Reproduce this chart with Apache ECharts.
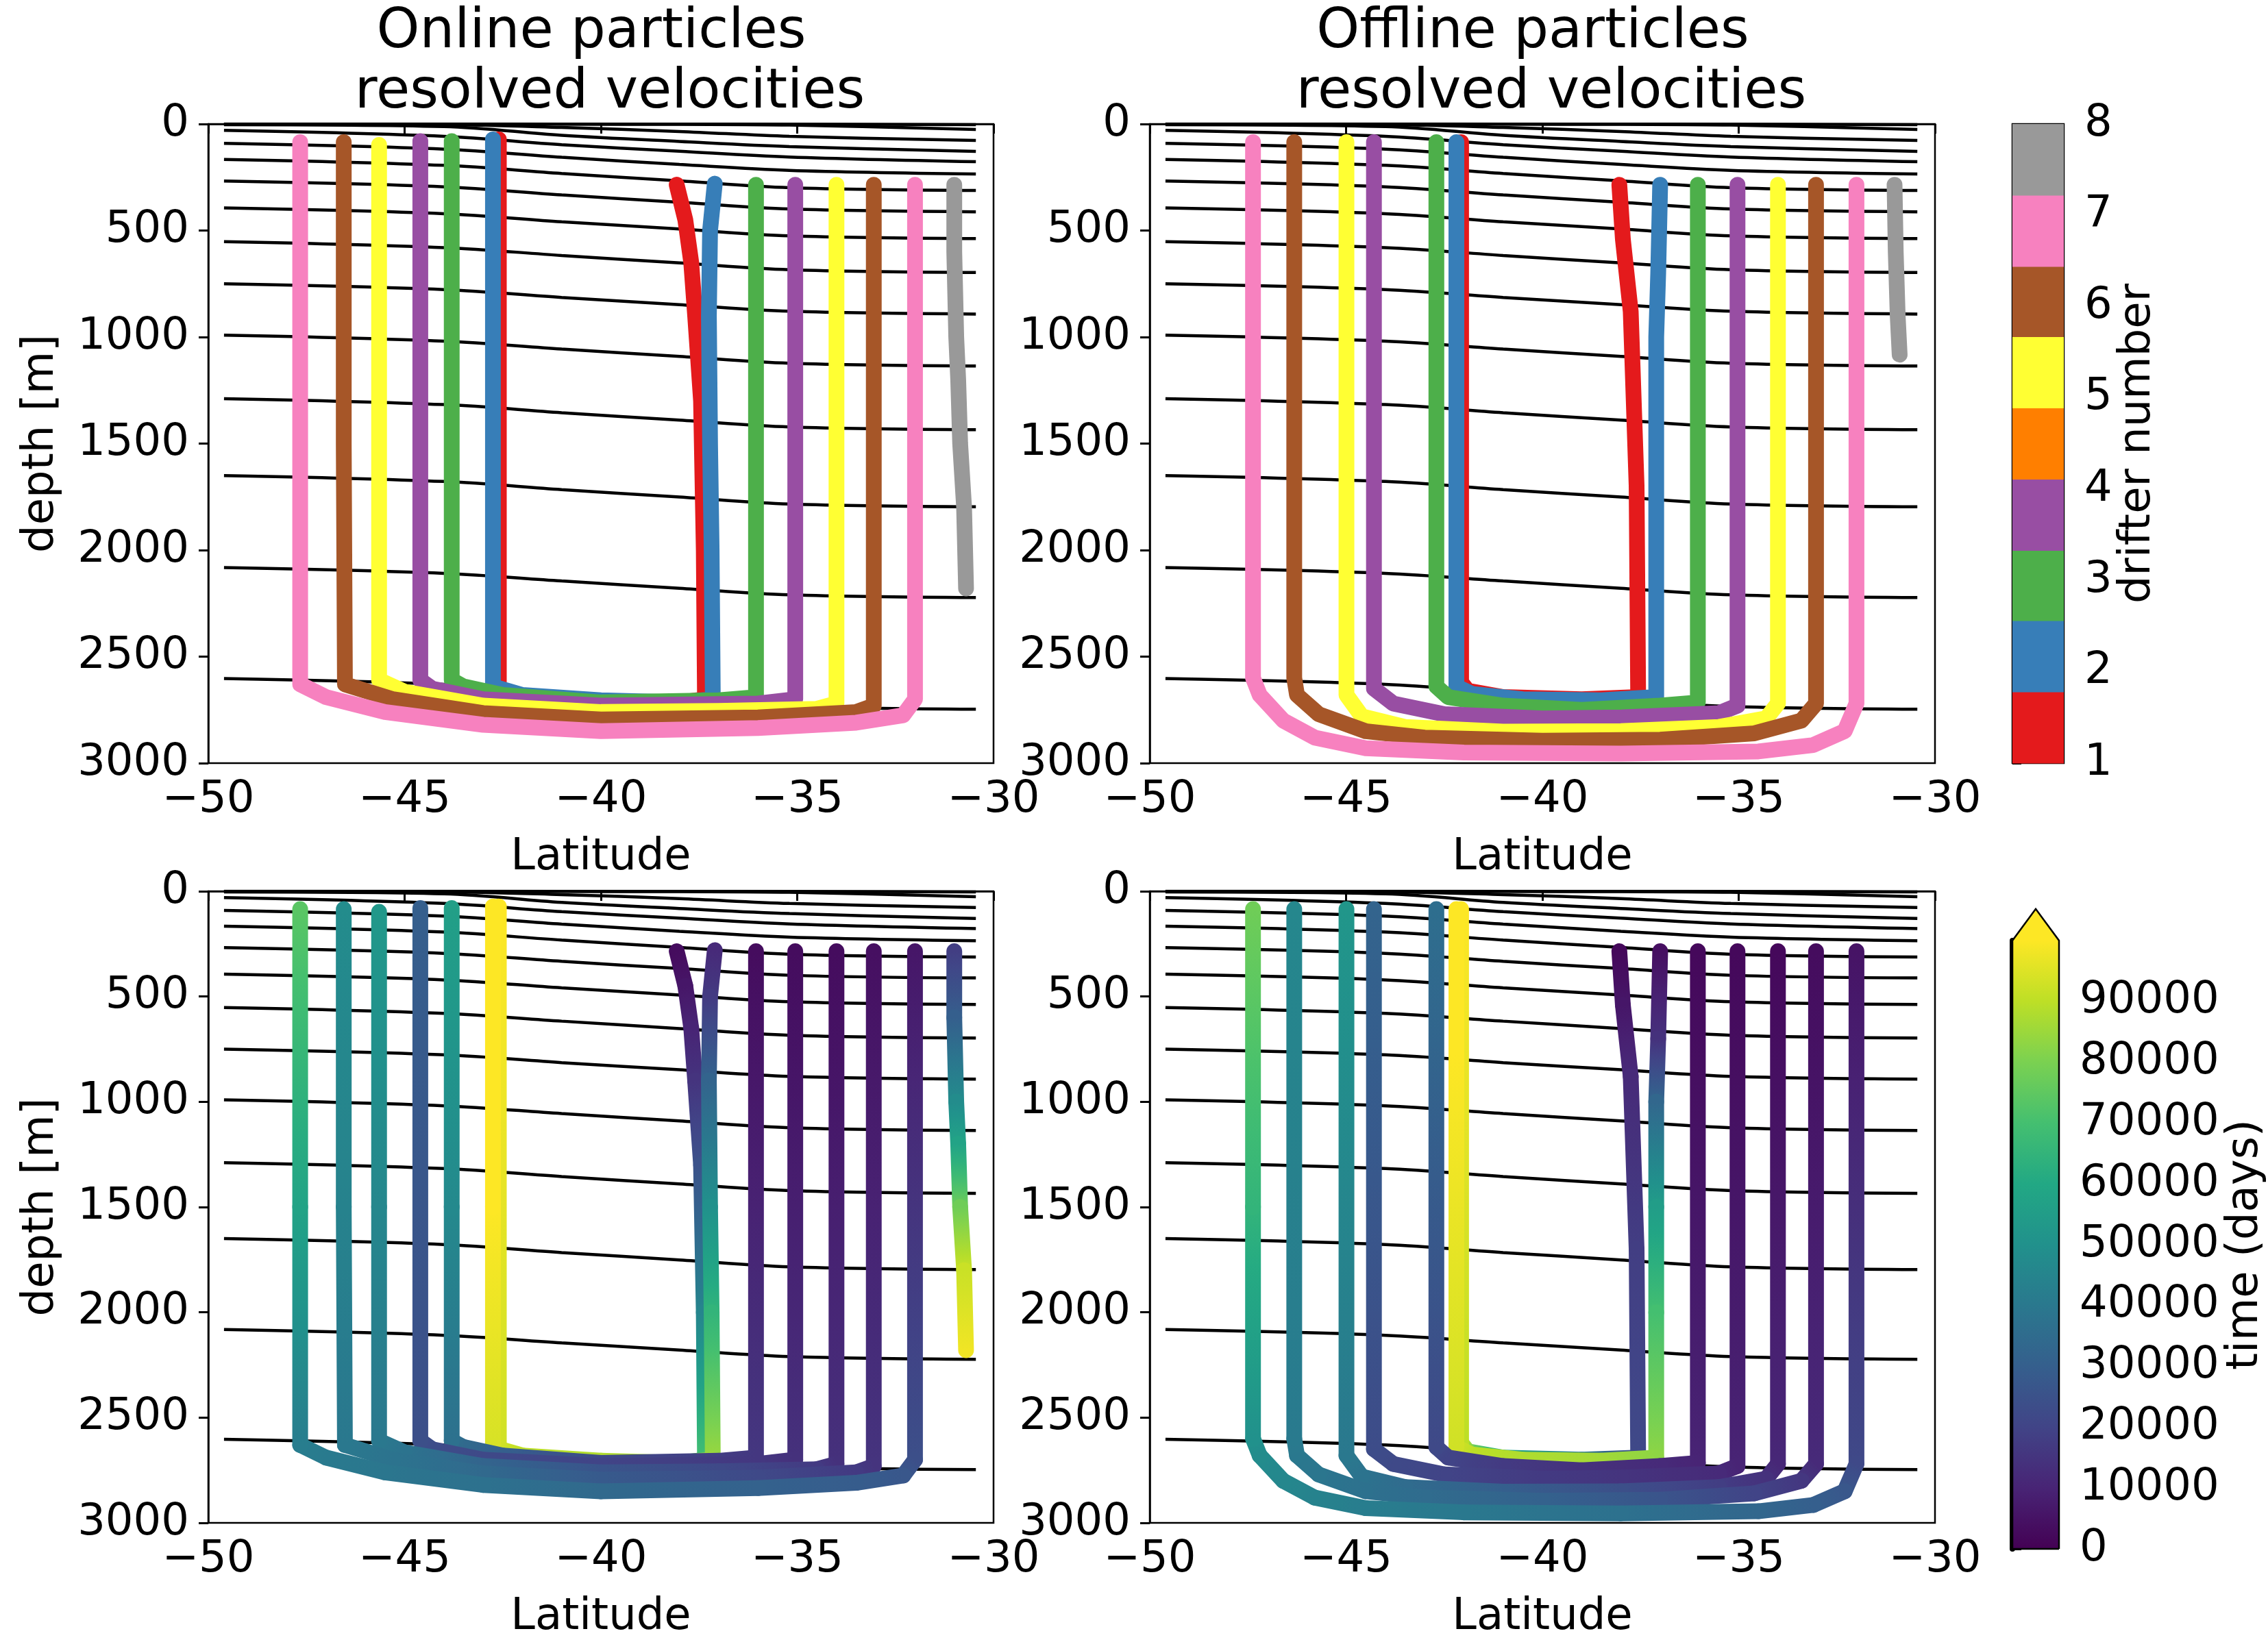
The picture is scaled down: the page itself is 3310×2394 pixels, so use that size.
<!DOCTYPE html>
<html>
<head>
<meta charset="utf-8">
<title>Online / offline particles</title>
<script src="https://cdn.jsdelivr.net/npm/echarts@6/dist/echarts.min.js"></script>
<style>
html, body { margin: 0; padding: 0; background: #fff; }
#main { width: 3310px; height: 2394px; }
</style>
</head>
<body>
<div id="main"></div>
<script>
// ---- data ----
// isopycnal contour lines (same in all four panels): depth [m] at isoLons
const isoLons = [-49.6, -44, -41, -38, -35.2, -30.45];
const isoDepths = [
  [0, 0, 0, 0, 1, 3],
  [0, 0, 1, 2, 5, 26],
  [1, 3, 16, 35, 58, 77],
  [3, 12, 53, 82, 106, 129],
  [30, 58, 97, 128, 155, 177],
  [91, 118, 156, 190, 218, 235],
  [166, 194, 232, 267, 299, 312],
  [268, 295, 333, 367, 399, 412],
  [394, 421, 459, 493, 525, 538],
  [552, 580, 617, 652, 684, 697],
  [750, 777, 814, 848, 879, 892],
  [991, 1019, 1056, 1091, 1123, 1136],
  [1289, 1317, 1355, 1390, 1422, 1435],
  [1650, 1678, 1716, 1751, 1784, 1797],
  [2082, 2109, 2145, 2179, 2210, 2223],
  [2603, 2630, 2668, 2702, 2734, 2747]
];

// trajectories: [latitude, depth, time (days)]
const online1 = [[-38.07,285,3000],[-37.85,450,6000],[-37.7,650,10000],[-37.6,900,15000],[-37.45,1300,25000],[-37.38,2000,45000],[-37.35,2700,70000],[-38.6,2730,80000],[-40,2715,84000],[-42,2690,90000],[-42.6,2655,93000],[-42.6,72,100000]];
const online2 = [[-37.1,280,12000],[-37.22,500,17000],[-37.25,900,32000],[-37.22,1500,50000],[-37.18,2000,65000],[-37.15,2700,85000],[-38,2715,87000],[-40,2705,88000],[-42,2680,90000],[-42.75,2640,94000],[-42.75,1500,100000],[-42.75,72,104000]];
const online3 = [[-36.05,285,3000],[-36.05,2690,16000],[-37,2705,18000],[-40,2715,22000],[-42.5,2680,30000],[-43.5,2640,34000],[-43.8,2610,37000],[-43.8,1500,47000],[-43.8,80,56000]];
const online4 = [[-35.05,285,3000],[-35.05,2700,14000],[-36,2720,16000],[-40,2730,20000],[-43,2700,22000],[-44.3,2650,23000],[-44.6,2610,24000],[-44.6,80,30000]];
const online5 = [[-34.0,285,3000],[-34.0,2720,14000],[-34.5,2745,17000],[-37,2755,22000],[-40,2760,26000],[-43,2730,32000],[-45,2665,38000],[-45.65,2610,40000],[-45.65,1500,46000],[-45.65,98,53000]];
const online6 = [[-33.05,285,4000],[-33.05,2730,15000],[-33.5,2760,17000],[-36,2785,22000],[-40,2795,28000],[-43,2765,34000],[-45.3,2700,38000],[-46.52,2630,40000],[-46.55,1500,44000],[-46.55,85,48000]];
const online7 = [[-32.0,285,6000],[-32.0,2700,24000],[-32.3,2775,27000],[-33.5,2810,29000],[-36,2835,31000],[-40,2850,34000],[-43,2820,37000],[-45.5,2760,39000],[-47.0,2690,41000],[-47.66,2630,42000],[-47.66,1500,58000],[-47.66,85,74000]];
const online8 = [[-31.0,285,18000],[-31.0,600,30000],[-30.95,1000,48000],[-30.9,1200,58000],[-30.85,1500,78000],[-30.75,1800,92000],[-30.7,2180,98000]];

const offline1 = [[-38.04,285,2000],[-37.95,540,6000],[-37.75,880,12000],[-37.6,1700,18000],[-37.56,2690,22000],[-39,2700,40000],[-41,2690,60000],[-41.9,2660,80000],[-42.07,2620,90000],[-42.07,85,100000]];
const offline2 = [[-37.0,285,4000],[-37.05,700,14000],[-37.1,1000,33000],[-37.1,1500,55000],[-37.1,2000,70000],[-37.1,2690,83000],[-38.5,2705,86000],[-40.5,2700,88000],[-41.8,2675,90000],[-42.19,2640,93000],[-42.19,1000,99000],[-42.19,85,105000]];
const offline3 = [[-36.04,285,2000],[-36.04,2715,10000],[-37,2730,12000],[-39,2750,14000],[-41,2730,17000],[-42.4,2690,20000],[-42.7,2640,22000],[-42.7,85,36000]];
const offline4 = [[-35.03,285,2000],[-35.03,2730,10000],[-35.5,2765,12000],[-38,2785,15000],[-40,2790,17000],[-42.5,2770,20000],[-43.8,2720,22000],[-44.29,2650,23000],[-44.29,85,32000]];
const offline5 = [[-34.0,285,2000],[-34.0,2720,11000],[-34.3,2790,14000],[-35.5,2830,18000],[-38,2850,24000],[-41,2852,30000],[-43.5,2830,35000],[-44.6,2780,38000],[-44.99,2680,40000],[-44.99,85,52000]];
const offline6 = [[-33.03,285,3000],[-33.03,2720,12000],[-33.4,2800,16000],[-34.6,2860,20000],[-37,2890,26000],[-40,2895,31000],[-43,2880,35000],[-44.5,2850,37000],[-45.7,2770,39000],[-46.25,2680,40000],[-46.32,2600,41000],[-46.32,85,46000]];
const offline7 = [[-32.0,285,5000],[-32.0,2720,22000],[-32.3,2850,27000],[-33.1,2915,30000],[-34.5,2945,33000],[-38,2955,37000],[-42,2950,40000],[-44.5,2930,42000],[-45.8,2880,44000],[-46.6,2800,46000],[-47.2,2680,48000],[-47.37,2600,50000],[-47.37,1500,65000],[-47.37,85,78000]];
const offline8 = [[-31.03,285,null],[-31.0,600,null],[-30.95,900,null],[-30.9,1083,null]];

const onlineDrifters = [online1, online2, online3, online4, online5, online6, online7, online8];
const offlineDrifters = [offline1, offline2, offline3, offline4, offline5, offline6, offline7, offline8];

// drifter number colours (Set1) and the 9 colour bins of the 1..8 colour bar
const drifterColors = ['#e41a1c', '#377eb8', '#4daf4a', '#984ea3', '#ffff33', '#a65628', '#f781bf', '#999999'];
const binColors = ['#e41a1c', '#377eb8', '#4daf4a', '#984ea3', '#ff7f00', '#ffff33', '#a65628', '#f781bf', '#999999'];
const binEdges = [1, 1.78, 2.56, 3.33, 4.11, 4.89, 5.67, 6.44, 7.22, 8];
const timeTicks = [0, 10000, 20000, 30000, 40000, 50000, 60000, 70000, 80000, 90000];
const viridisStops = ['#440154', '#482475', '#414487', '#355f8d', '#2a788e', '#21918c', '#22a884', '#44bf70', '#7ad151', '#bddf26', '#fde725'];
const timeMax = 100000;

// ---- helpers ----
const FONT = 'DejaVu Sans';
function hexRgb(h) {
  return [parseInt(h.slice(1, 3), 16), parseInt(h.slice(3, 5), 16), parseInt(h.slice(5, 7), 16)];
}
function viridis(t) {
  const s = Math.max(0, Math.min(1, t / timeMax)) * (viridisStops.length - 1);
  const i = Math.min(Math.floor(s), viridisStops.length - 2);
  const f = s - i;
  const a = hexRgb(viridisStops[i]), b = hexRgb(viridisStops[i + 1]);
  return 'rgb(' + a.map((v, k) => Math.round(v + (b[k] - v) * f)).join(',') + ')';
}
const minus = v => String(v).replace('-', '\u2212');

const W = 1146, H = 933, LW = 23;
const panels = [
  { left: 304, top: 181, drifters: onlineDrifters, byTime: false, ylabel: true },
  { left: 1678, top: 181, drifters: offlineDrifters, byTime: false, ylabel: false },
  { left: 304, top: 1301, drifters: onlineDrifters, byTime: true, ylabel: true },
  { left: 1678, top: 1301, drifters: offlineDrifters, byTime: true, ylabel: false }
];

const tickStyle = { fontSize: 64, fontFamily: FONT, color: '#000' };
const grids = [], xAxes = [], yAxes = [], series = [];

panels.forEach((p, i) => {
  grids.push({ left: p.left, top: p.top, width: W, height: H, show: true,
    borderColor: '#000', borderWidth: 2.5, backgroundColor: 'transparent' });
  xAxes.push({
    gridIndex: i, type: 'value', min: -50, max: -30, interval: 5,
    name: 'Latitude', nameLocation: 'middle', nameGap: 106, nameTextStyle: tickStyle,
    axisLine: { show: true, lineStyle: { color: '#000', width: 2.5 } },
    axisTick: { show: true, length: 14, lineStyle: { color: '#000', width: 3 } },
    axisLabel: Object.assign({ margin: 22, formatter: minus }, tickStyle),
    splitLine: { show: false }
  });
  yAxes.push({
    gridIndex: i, type: 'value', inverse: true, min: 0, max: 3000, interval: 500,
    name: p.ylabel ? 'depth [m]' : '', nameLocation: 'middle', nameGap: 212, nameTextStyle: tickStyle,
    axisLine: { show: true, lineStyle: { color: '#000', width: 2.5 } },
    axisTick: { show: true, length: 14, lineStyle: { color: '#000', width: 3 } },
    axisLabel: Object.assign({ margin: 28, formatter: v => String(v) }, tickStyle),
    splitLine: { show: false }
  });

  isoDepths.forEach(line => {
    series.push({
      type: 'line', xAxisIndex: i, yAxisIndex: i, z: 2, silent: true,
      data: isoLons.map((lon, k) => [lon, line[k]]),
      symbol: 'none', smooth: 0.35,
      lineStyle: { color: '#000', width: 4.5 }
    });
  });

  p.drifters.forEach((traj, d) => {
    if (!p.byTime) {
      series.push({
        type: 'line', xAxisIndex: i, yAxisIndex: i, z: 3, silent: true,
        data: traj.map(q => [q[0], q[1]]), symbol: 'none',
        lineStyle: { color: drifterColors[d], width: LW, cap: 'round', join: 'round' }
      });
    } else {
      if (traj[0][2] === null) return; // no time record for this drifter
      series.push({
        type: 'custom', xAxisIndex: i, yAxisIndex: i, z: 3, silent: true,
        data: traj, encode: { x: 0, y: 1 },
        renderItem: (params, api) => {
          const k = params.dataIndex;
          if (k >= traj.length - 1) return null;
          const a = traj[k], b = traj[k + 1];
          const p0 = api.coord([a[0], a[1]]), p1 = api.coord([b[0], b[1]]);
          const stops = [];
          for (let s = 0; s <= 4; s++) {
            stops.push({ offset: s / 4, color: viridis(a[2] + (b[2] - a[2]) * s / 4) });
          }
          return {
            type: 'line',
            shape: { x1: p0[0], y1: p0[1], x2: p1[0], y2: p1[1] },
            style: {
              stroke: new echarts.graphic.LinearGradient(p0[0], p0[1], p1[0], p1[1], stops, true),
              lineWidth: LW, lineCap: 'round'
            }
          };
        }
      });
    }
  });
});

// ---- colour bars ----
const cbLeft = 2937, cbWidth = 75;
grids.push({ left: cbLeft, top: 181, width: cbWidth, height: H, show: true, borderColor: '#000', borderWidth: 2.5 });
grids.push({ left: cbLeft, top: 1373, width: cbWidth, height: 888, show: false });
[4, 5].forEach(g => xAxes.push({ gridIndex: g, type: 'value', min: 0, max: 1, show: false }));
yAxes.push({
  gridIndex: 4, type: 'value', position: 'right', min: 1, max: 8, interval: 1,
  name: 'drifter number', nameLocation: 'middle', nameGap: 76, nameRotate: 90, nameTextStyle: tickStyle,
  axisLine: { show: false },
  axisTick: { show: true, length: 13, lineStyle: { color: '#000', width: 3 } },
  axisLabel: Object.assign({ margin: 30, formatter: v => String(v) }, tickStyle),
  splitLine: { show: false }
});
yAxes.push({
  gridIndex: 5, type: 'value', position: 'right', min: 0, max: timeMax, interval: 10000,
  name: 'time (days)', nameLocation: 'middle', nameGap: 240, nameRotate: 90, nameTextStyle: tickStyle,
  axisLine: { show: true, lineStyle: { color: '#000', width: 8 } },
  axisTick: { show: true, length: 13, customValues: timeTicks, lineStyle: { color: '#000', width: 3 } },
  axisLabel: Object.assign({ margin: 30, customValues: timeTicks, formatter: v => String(v) }, tickStyle),
  splitLine: { show: false }
});

series.push({
  type: 'custom', xAxisIndex: 4, yAxisIndex: 4, z: 1, silent: true,
  data: binColors.map((c, k) => [binEdges[k], binEdges[k + 1]]),
  encode: { y: [0, 1] },
  renderItem: (params, api) => {
    const k = params.dataIndex;
    const a = api.coord([0, binEdges[k]]), b = api.coord([1, binEdges[k + 1]]);
    return { type: 'rect', shape: { x: a[0], y: b[1], width: b[0] - a[0], height: a[1] - b[1] + 0.5 },
      style: { fill: binColors[k] } };
  }
});

series.push({
  type: 'custom', xAxisIndex: 5, yAxisIndex: 5, z: 1, silent: true,
  data: [[0, timeMax]], encode: { y: [0, 1] },
  renderItem: (params, api) => {
    const bl = api.coord([0, 0]), tr = api.coord([1, timeMax]);
    const tip = api.coord([0.5, timeMax * 1.052]);
    const grad = new echarts.graphic.LinearGradient(0, 1, 0, 0,
      viridisStops.map((c, k) => ({ offset: k / (viridisStops.length - 1), color: c })));
    return {
      type: 'group', children: [
        { type: 'rect', shape: { x: bl[0], y: tr[1], width: tr[0] - bl[0], height: bl[1] - tr[1] }, style: { fill: grad } },
        { type: 'polygon', shape: { points: [[bl[0], tr[1] + 1], tip, [tr[0], tr[1] + 1]] }, style: { fill: viridisStops[viridisStops.length - 1] } },
        { type: 'polyline', shape: { points: [[tr[0], bl[1]], bl, [bl[0], tr[1]], tip, [tr[0], tr[1]], [tr[0], bl[1]]] },
          style: { fill: null, stroke: '#000', lineWidth: 2.5 } }
      ]
    };
  }
});

// ---- titles ----
const titleStyle = { font: '80px "DejaVu Sans"', fill: '#000', textAlign: 'center', textVerticalAlign: 'middle' };
const graphics = [
  { text: 'Online particles', x: 863, y: 48 },
  { text: 'resolved velocities', x: 890, y: 136 },
  { text: 'Offline particles', x: 2237, y: 48 },
  { text: 'resolved velocities', x: 2264, y: 136 }
].map(t => ({ type: 'text', x: t.x, y: t.y, style: Object.assign({ text: t.text }, titleStyle) }));

const chart = echarts.init(document.getElementById('main'));
chart.setOption({
  animation: false,
  backgroundColor: '#fff',
  textStyle: { fontFamily: FONT },
  grid: grids,
  xAxis: xAxes,
  yAxis: yAxes,
  series: series,
  graphic: graphics
});
</script>
</body>
</html>
